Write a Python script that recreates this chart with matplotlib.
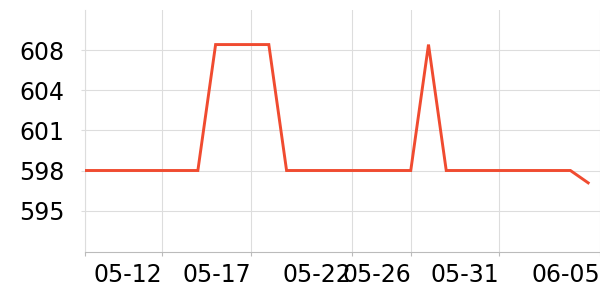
import matplotlib
matplotlib.use('Agg')
import matplotlib.pyplot as plt
import matplotlib.dates as mdates
from datetime import datetime, timedelta

# daily values, 05-07 .. 06-05
start = datetime(2024, 5, 7)
values = [598, 598, 598, 598, 598, 598, 598, 598,
          608.2, 608.2, 608.2, 608.2,
          598, 598, 598, 598, 598, 598, 598, 598,
          608.2,
          598, 598, 598, 598, 598, 598, 598, 598,
          597]
dates = [start + timedelta(days=i) for i in range(len(values))]

y_ticks = [594.75, 598, 601.25, 604.5, 607.75]
y_labels = ['595', '598', '601', '604', '608']

x_min = datetime(2024, 5, 7, 16)
x_max = datetime(2024, 6, 5, 16)
x_ticks = [x_min, datetime(2024, 5, 12), datetime(2024, 5, 17), datetime(2024, 5, 22, 16),
           datetime(2024, 5, 26), datetime(2024, 5, 31), x_max]
x_labels = ['', '05-12', '05-17', '05-22', '05-26', '05-31', '06-05']

fig = plt.figure(figsize=(6, 3), dpi=100)
ax = fig.add_axes([0.1425, 0.16, 0.8575, 0.8067])

ax.plot(dates, values, color='#f04b30', linewidth=2.1, solid_joinstyle='miter', zorder=3)

ax.set_xlim(x_min, x_max)
ax.set_ylim(591.4, 611)
ax.set_yticks(y_ticks)
ax.set_yticklabels(y_labels)
ax.set_xticks([mdates.date2num(d) for d in x_ticks])
ax.set_xticklabels(x_labels, ha='right')

ax.grid(color='#dddddd', linewidth=0.8)
for s in ['top', 'right']:
    ax.spines[s].set_visible(False)
ax.spines['left'].set_color('#dddddd')
ax.spines['bottom'].set_color('#bbbbbb')
ax.tick_params(axis='y', length=3, color='#dddddd', labelsize=17, pad=12)
ax.tick_params(axis='x', length=3, color='#bbbbbb', labelsize=17, pad=5)

plt.savefig('out.png')
